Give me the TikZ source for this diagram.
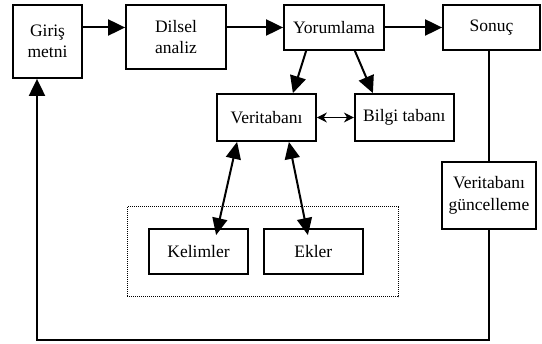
\documentclass[tikz,border=0pt]{standalone}
\usepackage{fontspec}
\setmainfont{Liberation Serif}
\usetikzlibrary{positioning}
\usetikzlibrary{arrows.meta}

\tikzset{
	kutu/.style={draw, line width=1.8pt, align=center, inner sep=2pt, font=\fontsize{17.5pt}{21.5pt}\selectfont},
	grup/.style={draw, densely dotted, line width=1pt},
	ok/.style={line width=2pt, -{Triangle[length=17pt,width=16pt]}},
	ciftok/.style={line width=2pt, {Triangle[length=17pt,width=15pt]}-{Triangle[length=17pt,width=15pt]}},
	inceok/.style={line width=1.2pt, {Stealth[length=10pt,width=10pt]}-{Stealth[length=10pt,width=10pt]}}
}

\begin{document}
\begin{tikzpicture}[x=1pt,y=-1pt]
	\useasboundingbox (0,0) rectangle (542,344);
	\node [kutu, minimum width=69, minimum height=73] at (47.5,41.5) (giris) {Giriş\\metni};
	\node [kutu, minimum width=100, minimum height=64] at (176,37) (dilsel) {Dilsel\\analiz};
	\node [kutu, minimum width=100, minimum height=45] at (334,27.5) (yorum) {Yorumlama};
	\node [kutu, minimum width=97, minimum height=45] at (491.5,27.5) (sonuc) {Sonuç};
	\draw [ok] (giris.east |- yorum) -- (dilsel.west |- yorum); \draw [ok] (dilsel.east |- yorum) -- (yorum); \draw [ok] (yorum) -- (sonuc);
	\node [kutu, minimum width=99, minimum height=47] at (266.5,117.5) (veri) {Veritabanı}; \node [kutu, minimum width=99, minimum height=47, right=37 of veri] (bilgi) {Bilgi tabanı};
	\draw [ok] ([xshift=23]yorum.south west) -- ([xshift=-24]veri.north east); \draw [ok] ([xshift=-30]yorum.south east) -- ([xshift=19]bilgi.north west);
	\draw [inceok] (veri) -- (bilgi);
	\node [grup, minimum width=271, minimum height=90] at (262.5,252) (grup) {};
	\node [kutu, minimum width=99, minimum height=45] at (198.5,251.5) (kelimler) {Kelimler}; \node [kutu, minimum width=99, minimum height=45, right=14 of kelimler] (ekler) {Ekler};
	\draw [ciftok] ([xshift=21]veri.south west) -- ([xshift=68,yshift=-7]kelimler.north west); \draw [ciftok] ([xshift=-28]veri.south east) -- ([xshift=45,yshift=-7]ekler.north west);
	\node [kutu, minimum width=94, minimum height=67] at (489,195.5) (guncel) {Veritabanı\\güncelleme};
	\draw [line width=2pt] (guncel.north |- sonuc.south) -- (guncel.north);
	\coordinate (geri) at (37,340);
	\draw [ok] (guncel.south) |- (geri) -- (geri |- giris.south);
\end{tikzpicture}
\end{document}
